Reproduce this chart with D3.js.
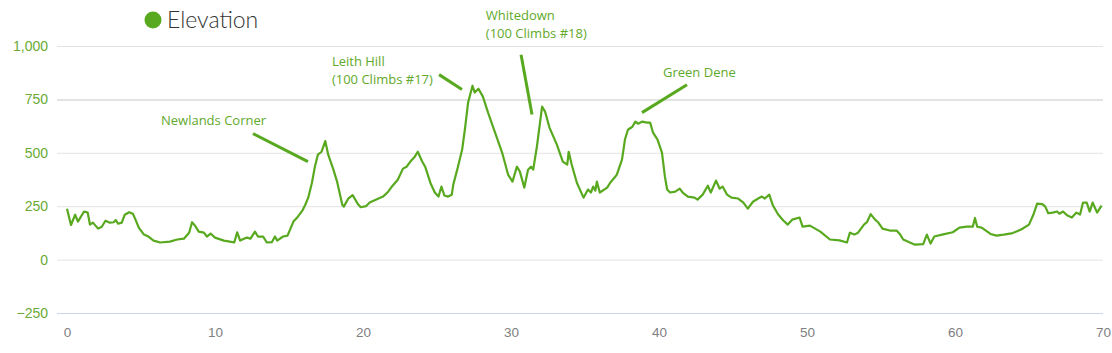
<!DOCTYPE html>
<html>
<head>
<meta charset="utf-8">
<script src="https://cdn.jsdelivr.net/npm/d3@7"></script>
<style>
  body { margin: 0; background: #fff; }
  svg { display: block; font-family: "Open Sans", sans-serif; }
  .grid line { stroke: #e3e3e3; }
  .grid .domain { display: none; }
  .ylab text { fill: #6aaa35; font-size: 14px; }
  .xaxis text { fill: #808080; font-size: 13.5px; }
  .xaxis line { display: none; }
  .xaxis .domain { stroke: #ccd6eb; }
  .note { fill: #5fa92c; font-size: 13px; }
</style>
</head>
<body>
<svg id="chart" width="1112" height="353"></svg>
<script>
// route profile: distance (km) and elevation (m)
const distanceKm = [
  0, 0.27, 0.55, 0.74, 1.15, 1.4, 1.55, 1.75, 2.1, 2.35, 2.6, 2.9, 3.15, 3.3, 3.45, 3.7, 3.9, 4.2, 4.45, 4.6,
  4.85, 5.2, 5.5, 5.85, 6.3, 6.95, 7.45, 7.9, 8.25, 8.45, 8.65, 8.9, 9.25, 9.45, 9.7, 10.0, 10.6, 11.0, 11.3, 11.5,
  11.7, 12.15, 12.4, 12.7, 12.9, 13.25, 13.5, 13.85, 14.05, 14.2, 14.6, 14.9, 15.3, 15.6, 15.9, 16.1, 16.3, 16.55, 16.75, 16.95,
  17.2, 17.45, 17.65, 18.0, 18.25, 18.6, 18.7, 19.0, 19.3, 19.65, 19.85, 20.2, 20.45, 20.9, 21.35, 21.7, 22.0, 22.35, 22.7, 22.95,
  23.2, 23.5, 23.7, 24.0, 24.2, 24.55, 24.85, 25.1, 25.3, 25.5, 25.75, 26.0, 26.1, 26.4, 26.7, 26.9, 27.1, 27.4, 27.55, 27.8,
  28.1, 28.45, 28.9, 29.4, 29.8, 30.1, 30.4, 30.6, 30.9, 31.15, 31.35, 31.5, 31.75, 32.1, 32.3, 32.6, 33.1, 33.5, 33.8, 33.9,
  34.1, 34.45, 34.9, 35.2, 35.4, 35.55, 35.7, 35.8, 36.0, 36.5, 36.7, 37.0, 37.15, 37.5, 37.7, 37.9, 38.2, 38.4, 38.6, 38.85,
  39.2, 39.4, 39.6, 39.9, 40.2, 40.4, 40.55, 40.75, 41.1, 41.4, 41.6, 41.95, 42.4, 42.6, 42.95, 43.3, 43.5, 43.85, 44.1, 44.3,
  44.6, 44.9, 45.35, 45.7, 46.0, 46.35, 46.7, 46.95, 47.15, 47.45, 47.7, 48.05, 48.4, 48.7, 49.0, 49.5, 49.7, 50.2, 50.9, 51.55,
  52.2, 52.7, 52.9, 53.2, 53.45, 53.85, 54.05, 54.3, 54.6, 54.8, 55.1, 55.6, 56.05, 56.3, 56.5, 56.95, 57.3, 57.85, 58.1, 58.35,
  58.6, 59.2, 59.85, 60.3, 60.8, 61.2, 61.35, 61.5, 61.8, 62.4, 62.8, 63.3, 63.9, 64.5, 65.0, 65.3, 65.55, 65.9, 66.1, 66.3,
  66.6, 66.9, 67.05, 67.3, 67.6, 67.9, 68.2, 68.45, 68.65, 68.9, 69.1, 69.3, 69.6, 69.9
];
const elevationM = [
  238, 162, 210, 178, 225, 220, 164, 173, 145, 154, 182, 173, 175, 185, 168, 173, 210, 222, 215, 192,
  150, 117, 108, 89, 80, 84, 94, 98, 126, 175, 159, 131, 126, 108, 122, 103, 89, 84, 80, 128,
  89, 103, 98, 131, 108, 108, 80, 82, 108, 89, 108, 112, 178, 201, 229, 257, 290, 360, 435, 491,
  505, 555, 491, 421, 365, 257, 248, 285, 302, 260, 245, 250, 267, 281, 295, 318, 346, 374, 426, 435,
  459, 482, 505, 459, 435, 360, 314, 295, 342, 300, 295, 304, 351, 430, 515, 618, 735, 814, 782, 800,
  763, 688, 599, 501, 398, 365, 435, 412, 337, 421, 435, 421, 529, 716, 693, 618, 538, 459, 445, 505,
  445, 360, 290, 328, 314, 342, 323, 365, 314, 337, 360, 384, 398, 468, 562, 608, 622, 646, 636, 646,
  641, 641, 594, 562, 501, 388, 328, 314, 318, 332, 314, 295, 290, 281, 304, 346, 314, 370, 332, 342,
  304, 290, 286, 267, 239, 271, 286, 295, 286, 304, 253, 211, 183, 164, 187, 197, 154, 159, 131, 94,
  90, 80, 126, 117, 126, 164, 175, 213, 187, 175, 145, 136, 136, 117, 94, 80, 70, 72, 117, 75,
  108, 118, 128, 150, 154, 154, 195, 154, 150, 120, 112, 117, 124, 142, 164, 211, 262, 260, 248, 217,
  220, 225, 215, 225, 206, 197, 220, 211, 267, 267, 225, 267, 220, 253
];
const yTicks = [-250, 0, 250, 500, 750, 1000];
const xTicks = [0, 10, 20, 30, 40, 50, 60, 70];

// labelled climbs: text anchor and pointer ends, in km / m
const noteNames = [["Newlands Corner"], ["Leith Hill", "(100 Climbs #17)"], ["Whitedown", "(100 Climbs #18)"], ["Green Dene"]];
const noteText = [[6.35, 632], [17.9, 908], [28.3, 1123], [40.27, 856]];
const notePtrFrom = [[12.57, 590], [25.14, 866], [30.68, 959], [41.89, 819]];
const notePtrTo = [[16.28, 459], [26.69, 796], [31.42, 679], [38.85, 688]];

const svg = d3.select("#chart");
const plotL = 57, plotR = 1103, plotT = 46, plotB = 313;

const x = d3.scaleLinear().domain([0, 70]).range([67, plotR]);
const y = d3.scaleLinear().domain([-250, 1000]).range([plotB, plotT]);

// grid + y labels
const grid = svg.append("g")
  .attr("class", "grid ylab")
  .attr("transform", "translate(" + plotL + ",0)")
  .call(d3.axisLeft(y).tickValues(yTicks).tickFormat(d3.format(",")).tickSize(-(plotR - plotL)).tickPadding(9));
grid.selectAll(".tick line")
  .attr("stroke-width", d => d == 750 ? 2 : 1)
  .attr("stroke", d => d == 750 ? "#ebebeb" : null);

// x axis
svg.append("g")
  .attr("class", "xaxis")
  .attr("transform", "translate(0," + plotB + ")")
  .call(d3.axisBottom(x).tickValues(xTicks).tickSize(0).tickPadding(14))
  .select(".domain").attr("d", "M" + plotL + ",0.5H" + plotR);

// elevation line
const pts = distanceKm.map((d, i) => [d, elevationM[i]]);
svg.append("path")
  .datum(pts)
  .attr("fill", "none")
  .attr("stroke", "#58a91f")
  .attr("stroke-width", 2.2)
  .attr("stroke-linejoin", "round")
  .attr("d", d3.line().x(d => x(d[0])).y(d => y(d[1])));

// annotations
noteNames.forEach((lines, i) => {
  svg.append("line")
    .attr("x1", x(notePtrFrom[i][0])).attr("y1", y(notePtrFrom[i][1]))
    .attr("x2", x(notePtrTo[i][0])).attr("y2", y(notePtrTo[i][1]))
    .attr("stroke", "#58a91f").attr("stroke-width", 3);
  const t = svg.append("text").attr("class", "note")
    .attr("x", x(noteText[i][0])).attr("y", y(noteText[i][1]));
  lines.forEach((s, j) => {
    t.append("tspan").attr("x", x(noteText[i][0])).attr("dy", j ? 18 : 0).text(s);
  });
});

// legend
svg.append("circle").attr("cx", 153).attr("cy", 20).attr("r", 8.5).attr("fill", "#58a91f");
svg.append("text").attr("x", 167).attr("y", 28)
  .style("font-family", "Lato, sans-serif")
  .attr("font-size", 23).attr("font-weight", 300).attr("fill", "#333")
  .text("Elevation");
</script>
</body>
</html>
